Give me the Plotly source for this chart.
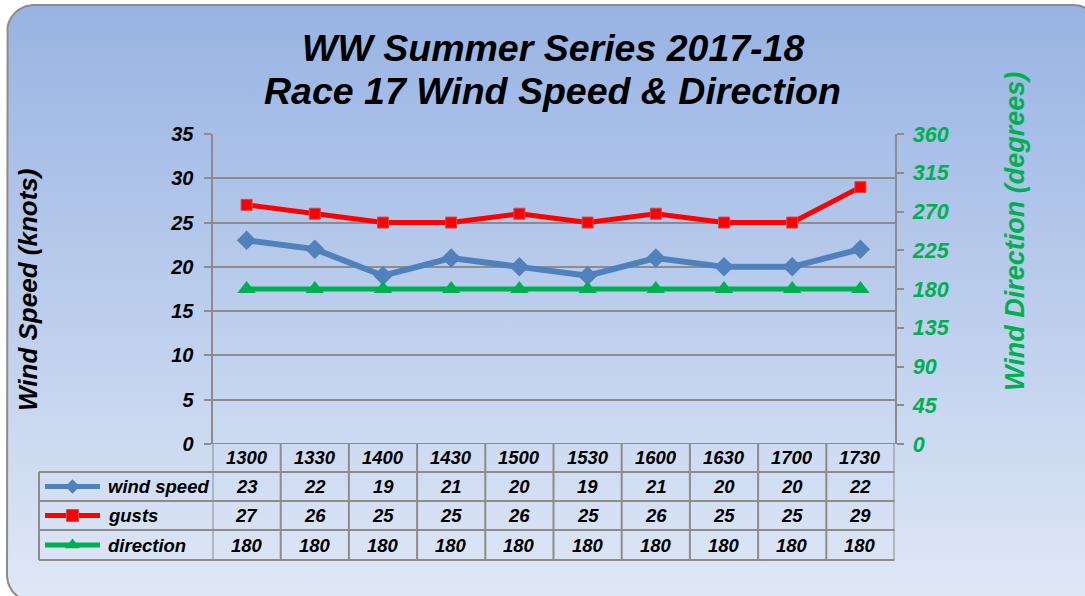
import numpy as np
import plotly.graph_objects as go

# ---------------- data ----------------
times = ["1300", "1330", "1400", "1430", "1500", "1530", "1600", "1630", "1700", "1730"]
wind_speed = [23, 22, 19, 21, 20, 19, 21, 20, 20, 22]
gusts = [27, 26, 25, 25, 26, 25, 26, 25, 25, 29]
direction = [180, 180, 180, 180, 180, 180, 180, 180, 180, 180]

speed_ticks = [0, 5, 10, 15, 20, 25, 30, 35]
dir_ticks = [0, 45, 90, 135, 180, 225, 270, 315, 360]

title_1 = "WW Summer Series 2017-18"
title_2 = "Race 17 Wind Speed & Direction"
left_title = "Wind Speed (knots)"
right_title = "Wind Direction (degrees)"
series_names = ["wind speed", "gusts", "direction"]

# ---------------- style ----------------
W, H = 1085, 596
FONT = "Liberation Sans, Arial, sans-serif"
GRID = "#8c8c8c"
BLUE = "#4f81bd"
RED = "#ff0000"
GREEN = "#00b050"
TOP_BG = "#98b3e3"
BOT_BG = "#e0e8f6"

PX_L, PX_R = 212.5, 894.5      # plot area, pixels
PX_T, PX_B = 134, 444

def bfont(size, color="black"):
    return dict(family=FONT, size=size, color=color, weight="bold", style="italic")

def py(v):
    """pixel row -> paper fraction"""
    return 1 - v / H

# rounded rectangle outline for the chart background
def rounded_rect(x0, y0, x1, y1, r, n=16):
    xs, ys = [], []
    corners = [(x1 - r, y0 + r, -90, 0), (x1 - r, y1 - r, 0, 90),
               (x0 + r, y1 - r, 90, 180), (x0 + r, y0 + r, 180, 270)]
    for cx, cy, a0, a1 in corners:
        a = np.radians(np.linspace(a0, a1, n))
        xs.extend(cx + r * np.cos(a))
        ys.extend(cy + r * np.sin(a))
    xs.append(xs[0]); ys.append(ys[0])
    return xs, ys

bx, by = rounded_rect(7, 5, 1100, 602, 27)

fig = go.Figure()

fig.add_trace(go.Scatter(
    x=bx, y=by, mode="lines", fill="toself",
    fillgradient=dict(type="vertical", start=5, stop=602,
                      colorscale=[[0, TOP_BG], [1, BOT_BG]]),
    line=dict(color=GRID, width=2), hoverinfo="skip", showlegend=False,
    xaxis="x", yaxis="y"))

# data series
fig.add_trace(go.Scatter(
    x=times, y=wind_speed, name=series_names[0], mode="lines+markers",
    line=dict(color=BLUE, width=6),
    marker=dict(symbol="diamond", size=15, color=BLUE),
    xaxis="x2", yaxis="y2", showlegend=False))
fig.add_trace(go.Scatter(
    x=times, y=gusts, name=series_names[1], mode="lines+markers",
    line=dict(color=RED, width=5),
    marker=dict(symbol="square", size=11, color=RED, line=dict(color="#d24a4a", width=1)),
    xaxis="x2", yaxis="y2", showlegend=False))
fig.add_trace(go.Scatter(
    x=times, y=direction, name=series_names[2], mode="lines+markers",
    line=dict(color=GREEN, width=5),
    marker=dict(symbol="triangle-up", size=16, color=GREEN),
    xaxis="x2", yaxis="y3", showlegend=False))

# ---------------- data table ----------------
ROW_Y = [486.5, 515.5, 545]
HEAD_Y = 458
ROW_LINES = [472, 501, 530, 560]
TABLE_L = 39

shapes = []
line_style = dict(color=GRID, width=2)
# x axis baseline (incl. tick stubs)
shapes.append(dict(type="line", xref="x", yref="y2", x0=PX_L - 7, x1=PX_R + 7, y0=0, y1=0,
                   line=line_style))
for i in range(len(times) + 1):
    shapes.append(dict(type="line", xref="x2", yref="paper", x0=i - 0.5, x1=i - 0.5,
                       y0=py(PX_B), y1=py(ROW_LINES[-1]), line=line_style))
for yy in ROW_LINES:
    shapes.append(dict(type="line", xref="x", yref="y", x0=TABLE_L, x1=PX_R,
                       y0=yy, y1=yy, line=line_style))
shapes.append(dict(type="line", xref="x", yref="y", x0=TABLE_L, x1=TABLE_L,
                   y0=ROW_LINES[0], y1=ROW_LINES[-1], line=line_style))

annotations = []
for i, t in enumerate(times):
    annotations.append(dict(x=i, y=py(HEAD_Y), xref="x2", yref="paper", text=t, showarrow=False,
                            font=bfont(18.5), xanchor="center", yanchor="middle"))
for vals, ry in zip([wind_speed, gusts, direction], ROW_Y):
    for i, v in enumerate(vals):
        annotations.append(dict(x=i, y=py(ry), xref="x2", yref="paper", text=str(v), showarrow=False,
                                font=bfont(18.5), xanchor="center", yanchor="middle"))
for name, ry in zip(series_names, ROW_Y):
    annotations.append(dict(x=106, y=ry, xref="x", yref="y", text=name, showarrow=False,
                            font=bfont(18.5), xanchor="left", yanchor="middle"))

# legend keys inside the table
keys = [(BLUE, "diamond", 11, 5), (RED, "square", 12, 5), (GREEN, "triangle-up", 13, 5)]
for (col, sym, msize, lw), ry in zip(keys, ROW_Y):
    fig.add_trace(go.Scatter(x=[45, 100], y=[ry, ry], mode="lines",
                             line=dict(color=col, width=lw), hoverinfo="skip",
                             showlegend=False, xaxis="x", yaxis="y"))
    fig.add_trace(go.Scatter(x=[72.5], y=[ry], mode="markers",
                             marker=dict(symbol=sym, size=msize, color=col,
                                         line=dict(width=1, color="#d24a4a") if sym == "square" else dict(width=0)),
                             hoverinfo="skip", showlegend=False, xaxis="x", yaxis="y"))

# titles
annotations.append(dict(x=552.5, y=48, xref="x", yref="y", text=title_1, showarrow=False,
                        font=bfont(37.5), xanchor="center", yanchor="middle"))
annotations.append(dict(x=552.5, y=91, xref="x", yref="y", text=title_2, showarrow=False,
                        font=bfont(37.5), xanchor="center", yanchor="middle"))
annotations.append(dict(x=28, y=290, xref="x", yref="y", text=left_title, showarrow=False,
                        font=bfont(26), textangle=-90, xanchor="center", yanchor="middle"))
annotations.append(dict(x=1015, y=232, xref="x", yref="y", text=right_title, showarrow=False,
                        font=bfont(27, GREEN), textangle=-90, xanchor="center", yanchor="middle"))

fig.update_layout(
    width=W, height=H, autosize=False,
    margin=dict(l=0, r=0, t=0, b=0, pad=0, autoexpand=False),
    paper_bgcolor="white", plot_bgcolor="rgba(0,0,0,0)",
    showlegend=False,
    xaxis=dict(domain=[0, 1], range=[0, W], visible=False, fixedrange=True),
    yaxis=dict(domain=[0, 1], range=[H, 0], visible=False, fixedrange=True),
    xaxis2=dict(domain=[PX_L / W, PX_R / W], anchor="y2", type="category",
                range=[-0.5, len(times) - 0.5], showticklabels=False, showgrid=False,
                showline=False, ticks="", zeroline=False),
    yaxis2=dict(domain=[1 - PX_B / H, 1 - PX_T / H], anchor="x2", range=[0, 35],
                tickvals=speed_ticks, showline=True, linecolor=GRID, linewidth=2,
                ticks="outside", ticklen=7, tickwidth=2, tickcolor=GRID,
                showgrid=True, gridcolor=GRID, gridwidth=2, zeroline=False,
                tickfont=bfont(20), ticklabelstandoff=6),
    yaxis3=dict(overlaying="y2", side="right", anchor="x2", range=[0, 360],
                tickvals=dir_ticks, showline=True, linecolor=GRID, linewidth=2,
                ticks="outside", ticklen=7, tickwidth=2, tickcolor=GRID,
                showgrid=False, zeroline=False, tickfont=bfont(21.5, GREEN),
                ticklabelstandoff=5),
    shapes=shapes,
    annotations=annotations,
)

fig.write_html(
    "out.html",
    config={"displayModeBar": False},
    post_script="document.body.style.margin='0';document.body.style.overflow='hidden';",
)
